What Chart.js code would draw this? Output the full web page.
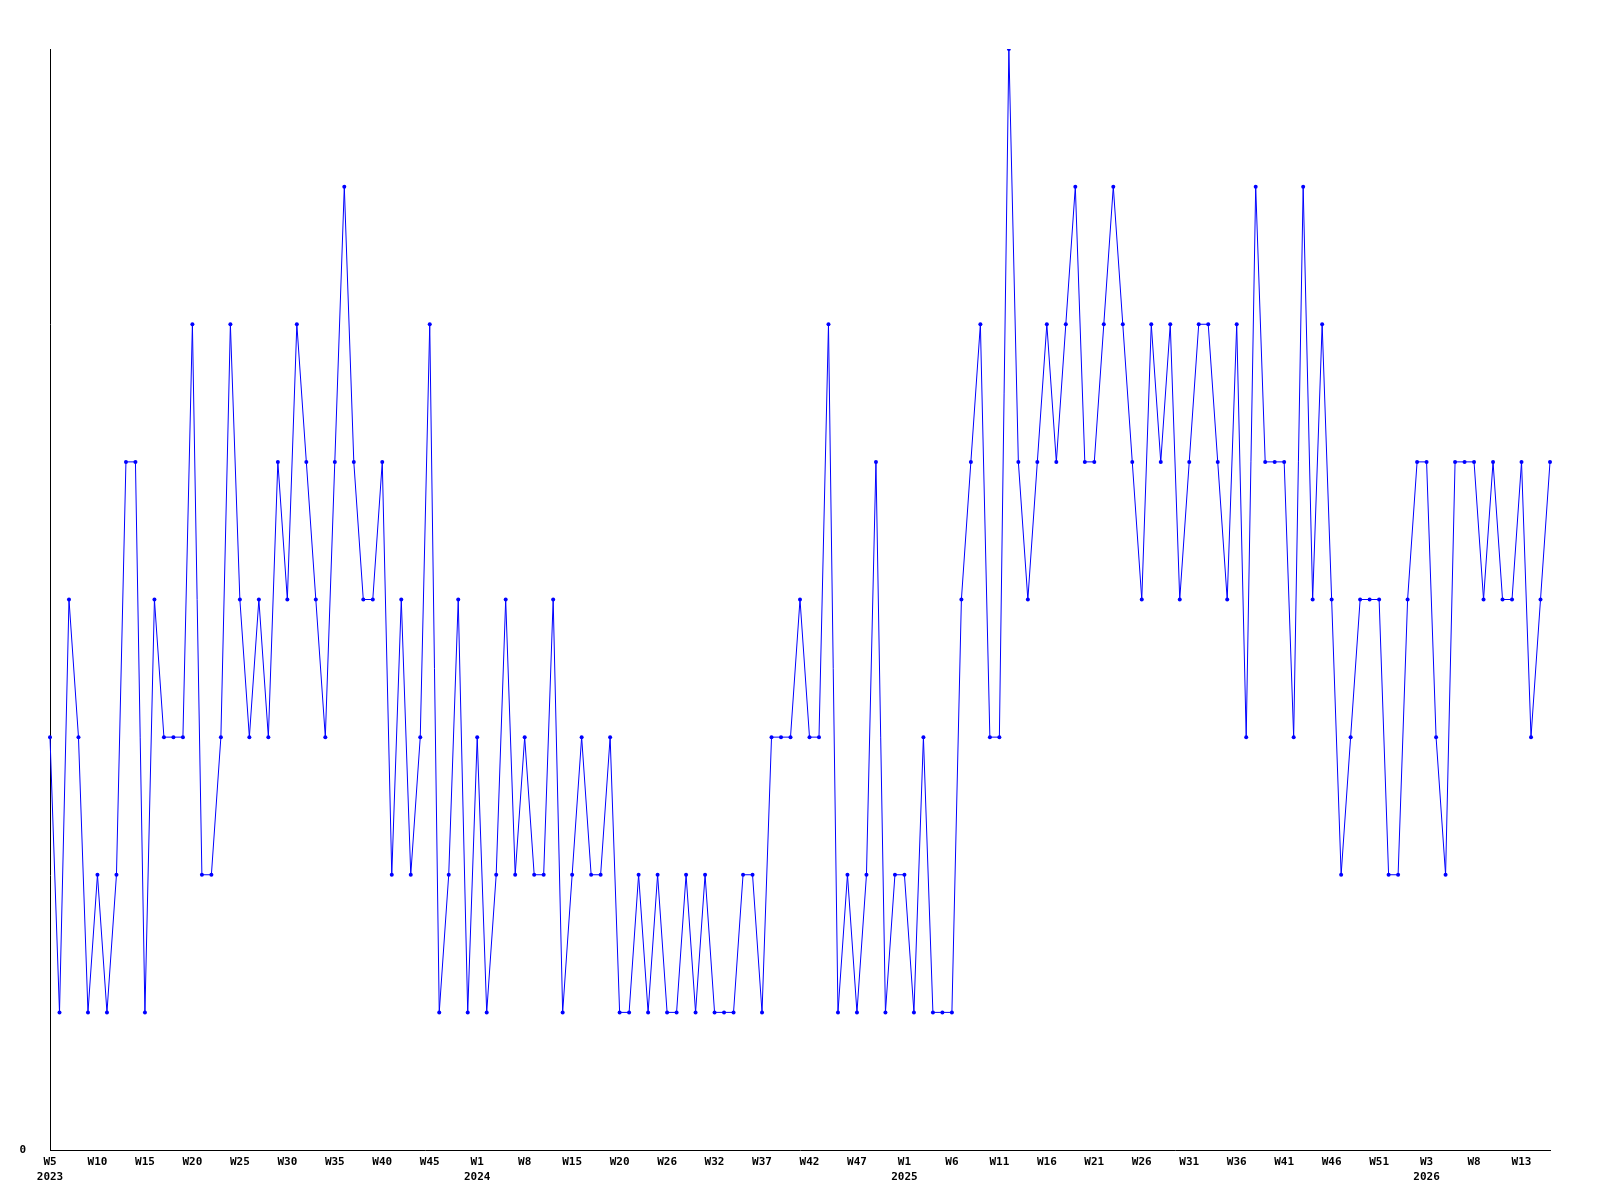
<!DOCTYPE html>
<html>
<head>
<meta charset="utf-8">
<script src="https://cdn.jsdelivr.net/npm/chart.js@4/dist/chart.umd.min.js"></script>
<style>
  html, body { margin: 0; padding: 0; background: #fff; }
  canvas { display: block; }
</style>
</head>
<body>
<canvas id="weeklyChart" width="1600" height="1200"></canvas>
<script>
// week numbers per year (some weeks have no entry)
const weeks2023 = [5, 6, 7, 8, 9, 10, 11, 12, 13, 14, 15, 16, 17, 18, 19, 20, 21, 22, 23, 24, 25,
    26, 27, 28, 29, 30, 31, 32, 33, 34, 35, 36, 37, 38, 39, 40, 41, 42, 43, 44, 45, 47, 49, 50, 52];
const weeks2024 = [1, 2, 4, 5, 7, 8, 9, 11, 12, 14, 15, 16, 17, 18, 19, 20, 21, 22, 24, 25, 26,
    27, 28, 30, 31, 32, 33, 34, 35, 36, 37, 38, 39, 40, 41, 42, 43, 44, 45, 46, 47, 48, 49, 51, 52];
const weeks2025 = [1, 2, 3, 4, 5, 6, 7, 8, 9, 10, 11, 12, 13, 14, 15, 16, 17, 18, 19, 20, 21, 22,
    23, 24, 25, 26, 27, 28, 29, 30, 31, 32, 33, 34, 35, 36, 37, 38, 39, 40, 41, 42, 43, 44, 45,
    46, 47, 48, 49, 50, 51, 52];
const weeks2026 = [0, 1, 2, 3, 4, 5, 6, 7, 8, 9, 10, 11, 12, 13, 14, 15, 16];

// weekly counts, one per week above
const counts = [
    3, 1, 4, 3, 1, 2, 1, 2, 5, 5,
    1, 4, 3, 3, 3, 6, 2, 2, 3, 6,
    4, 3, 4, 3, 5, 4, 6, 5, 4, 3,
    5, 7, 5, 4, 4, 5, 2, 4, 2, 3,
    6, 1, 2, 4, 1, 3, 1, 2, 4, 2,
    3, 2, 2, 4, 1, 2, 3, 2, 2, 3,
    1, 1, 2, 1, 2, 1, 1, 2, 1, 2,
    1, 1, 1, 2, 2, 1, 3, 3, 3, 4,
    3, 3, 6, 1, 2, 1, 2, 5, 1, 2,
    2, 1, 3, 1, 1, 1, 4, 5, 6, 3,
    3, 8, 5, 4, 5, 6, 5, 6, 7, 5,
    5, 6, 7, 6, 5, 4, 6, 5, 6, 4,
    5, 6, 6, 5, 4, 6, 3, 7, 5, 5,
    5, 3, 7, 4, 6, 4, 2, 3, 4, 4,
    4, 2, 2, 4, 5, 5, 3, 2, 5, 5,
    5, 4, 5, 4, 4, 5, 3, 4, 5
];

const weekNums = [];
const weekYears = [];
[[2023, weeks2023], [2024, weeks2024], [2025, weeks2025], [2026, weeks2026]].forEach(([yr, list]) => {
    list.forEach(w => { weekNums.push(w); weekYears.push(yr); });
});
const labels = weekNums.map((w, i) => weekYears[i] + '-W' + w);

const tickEvery = 5;
const axisFont = { family: "'DejaVu Sans Mono', monospace", size: 11, weight: 'bold', lineHeight: 1.35 };

const ctx = document.getElementById('weeklyChart').getContext('2d');
new Chart(ctx, {
    type: 'line',
    data: {
        labels: labels,
        datasets: [{
            data: counts,
            borderColor: '#0000ff',
            backgroundColor: '#0000ff',
            borderWidth: 1,
            pointRadius: 2,
            pointBorderWidth: 0,
            tension: 0
        }]
    },
    options: {
        responsive: false,
        animation: false,
        layout: { padding: { top: 49, right: 50, left: 0, bottom: 0 } },
        plugins: {
            legend: { display: false },
            tooltip: { enabled: false }
        },
        scales: {
            x: {
                grid: { display: false, drawTicks: false },
                border: { color: '#000', width: 1 },
                ticks: {
                    autoSkip: false,
                    maxRotation: 0,
                    padding: 5,
                    color: '#000',
                    font: axisFont,
                    callback: function (value, index) {
                        if (index % tickEvery !== 0) return '';
                        const w = 'W' + weekNums[index];
                        if (index === 0 || weekYears[index] !== weekYears[index - tickEvery]) {
                            return [w, String(weekYears[index])];
                        }
                        return w;
                    }
                },
                afterFit: function (scale) { scale.height = 50; }
            },
            y: {
                min: 0,
                max: 8,
                grid: { display: false, drawTicks: false },
                border: { color: '#000', width: 1 },
                ticks: {
                    stepSize: 1,
                    padding: 24,
                    color: '#000',
                    font: axisFont,
                    callback: v => (v === 0 ? '0' : '')
                },
                afterFit: function (scale) { scale.width = 50; }
            }
        }
    }
});
</script>
</body>
</html>
